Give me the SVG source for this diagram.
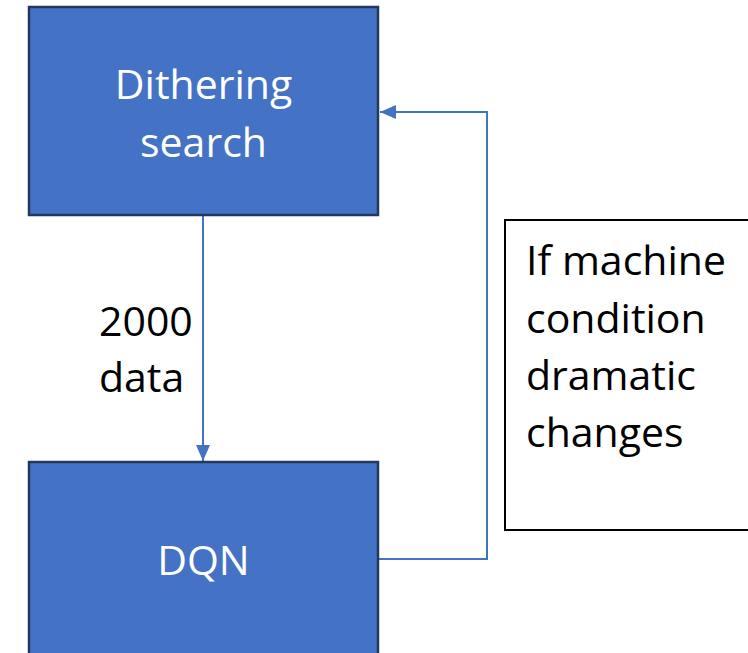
<svg xmlns="http://www.w3.org/2000/svg" width="748" height="653" viewBox="0 0 748 653">
<style>
.node{fill:#4472C4;stroke:#22385f;stroke-width:2.5}
.lbl{font-family:"Open Sans","Noto Sans",sans-serif;font-size:41px}
.w{fill:#ffffff}
.k{fill:#000000}
.conn{fill:none;stroke:#4472C4;stroke-width:2}
</style>
<defs>
<marker id="ah" markerWidth="8" markerHeight="7" refX="8" refY="3.5" orient="auto" markerUnits="strokeWidth">
<path d="M0,0 L8,3.5 L0,7 Z" fill="#4472C4"/>
</marker>
</defs>
<g id="connectors">
<path class="conn" d="M203,216 L203,461" marker-end="url(#ah)"/>
<path class="conn" d="M379,559 L487,559 L487,112 L380,112" marker-end="url(#ah)"/>
</g>
<g id="dithering">
<rect class="node" x="29" y="7" width="349" height="208"/>
<text class="lbl w" x="203.5" y="99" text-anchor="middle">Dithering</text>
<text class="lbl w" x="203.5" y="157" text-anchor="middle">search</text>
</g>
<g id="dqn">
<rect class="node" x="29" y="462" width="349" height="200"/>
<text class="lbl w" x="203.5" y="575" text-anchor="middle">DQN</text>
</g>
<g id="label-2000">
<text class="lbl k" x="99" y="336">2000</text>
<text class="lbl k" x="99" y="392">data</text>
</g>
<g id="condition">
<rect x="505" y="220" width="250" height="310" fill="#ffffff" stroke="#000000" stroke-width="2"/>
<text class="lbl k" x="526" y="275">If machine</text>
<text class="lbl k" x="526" y="333">condition</text>
<text class="lbl k" x="526" y="390">dramatic</text>
<text class="lbl k" x="526" y="447">changes</text>
</g>
</svg>
